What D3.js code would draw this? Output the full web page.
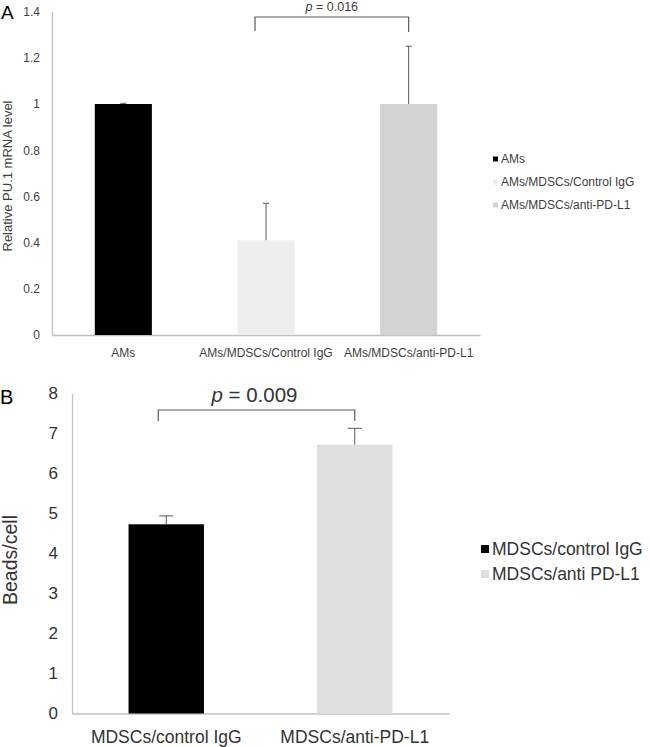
<!DOCTYPE html>
<html><head><meta charset="utf-8">
<script src="https://cdn.jsdelivr.net/npm/d3@7"></script>
<style>body{margin:0;background:#fff}svg{display:block;font-family:Arial,"Liberation Sans",sans-serif}</style>
</head><body>
<svg id="c" width="650" height="747"></svg>
<script>
// Panel A data
const catsA = ["AMs", "AMs/MDSCs/Control IgG", "AMs/MDSCs/anti-PD-L1"];
const valsA = [1.0, 0.41, 1.0];
const errA = [0.003, 0.16, 0.25];
const colorsA = ["#000000", "#eeeeee", "#d3d3d3"];
const ticksA = [0, 0.2, 0.4, 0.6, 0.8, 1, 1.2, 1.4];
const pA = "0.016";
// Panel B data
const catsB = ["MDSCs/control IgG", "MDSCs/anti-PD-L1"];
const legB = ["MDSCs/control IgG", "MDSCs/anti PD-L1"];
const valsB = [4.73, 6.72];
const errB = [0.21, 0.41];
const colorsB = ["#000000", "#dfdfdf"];
const ticksB = [0, 1, 2, 3, 4, 5, 6, 7, 8];
const pB = "0.009";

const svg = d3.select("#c");

function panel(o) {
  const g = svg.append("g");
  const x = d3.scaleBand().domain(o.cats).range([o.x0, o.x1]).paddingInner(0.6).paddingOuter(0.3);
  const y = d3.scaleLinear().domain([0, o.ymax]).range([o.y0, o.y1]);
  // axes
  const ya = d3.axisLeft(y).tickValues(o.ticks).tickSize(0).tickPadding(o.tickPad).tickFormat(d3.format("~g"));
  const yg = g.append("g").attr("transform", `translate(${o.x0},0)`).call(ya);
  yg.select(".domain").attr("stroke", "#c0c0c0").attr("stroke-width", 1.3);
  yg.selectAll("text").attr("font-size", o.fs).attr("fill", o.tc);
  const xa = d3.axisBottom(x).tickSize(0).tickPadding(o.xPad);
  const xg = g.append("g").attr("transform", `translate(0,${o.y0})`).call(xa);
  xg.select(".domain").attr("stroke", "#c0c0c0").attr("stroke-width", 1.3);
  xg.selectAll("text").attr("font-size", o.xfs).attr("fill", o.tc);
  // bars
  g.selectAll(".bar").data(o.vals).enter().append("rect")
    .attr("x", (d, i) => x(o.cats[i])).attr("width", x.bandwidth())
    .attr("y", d => y(d)).attr("height", d => o.y0 - y(d))
    .attr("fill", (d, i) => o.colors[i]);
  // error bars
  o.vals.forEach((v, i) => {
    const cx = x(o.cats[i]) + x.bandwidth() / 2;
    const top = y(v + o.err[i]);
    g.append("line").attr("x1", cx).attr("x2", cx).attr("y1", y(v)).attr("y2", top).attr("stroke", "#595959").attr("stroke-width", 1);
    g.append("line").attr("x1", cx - o.cap).attr("x2", cx + o.cap).attr("y1", top).attr("y2", top).attr("stroke", "#595959").attr("stroke-width", 1);
  });
  // bracket
  const bx1 = x(o.cats[o.b1]) + x.bandwidth() / 2 + o.bOff, bx2 = x(o.cats[o.b2]) + x.bandwidth() / 2;
  g.append("path").attr("d", `M${bx1},${o.bBot}V${o.bTop}H${bx2}V${o.bBot2}`).attr("fill", "none").attr("stroke", "#595959").attr("stroke-width", 1.2);
  const t = g.append("text").attr("x", (bx1 + bx2) / 2 + o.pdx).attr("y", o.bTop - o.pGap).attr("text-anchor", "middle").attr("font-size", o.pfs).attr("fill", o.tc);
  t.append("tspan").attr("font-style", "italic").text("p");
  t.append("tspan").text(" = " + o.p);
  // y label
  g.append("text").attr("transform", `translate(${o.ylx},${o.yly}) rotate(-90)`).attr("text-anchor", "middle")
    .attr("font-size", o.ylfs).attr("fill", o.tc).text(o.ylabel);
  // panel letter
  g.append("text").attr("x", o.lx).attr("y", o.ly).attr("font-size", o.lfs).attr("fill", "#000").text(o.letter);
  // legend
  o.leg.forEach((name, i) => {
    const ly = o.legY + i * o.legDy;
    g.append("rect").attr("x", o.legX).attr("y", ly - o.sq / 2).attr("width", o.sq).attr("height", o.sq).attr("fill", o.colors[i]);
    g.append("text").attr("x", o.legX + o.sq + 3).attr("y", ly).attr("dy", "0.35em").attr("font-size", o.legfs).attr("fill", o.tc).text(name);
  });
}

panel({cats: catsA, vals: valsA, err: errA, colors: colorsA, ticks: ticksA, ymax: 1.4,
  x0: 52, x1: 480, y0: 335, y1: 11.6, fs: 12, xfs: 12, tc: "#404040", tickPad: 12, xPad: 13, cap: 3,
  b1: 1, b2: 2, bOff: -11, bTop: 17, bBot: 31, bBot2: 32, p: pA, pfs: 12.5, pGap: 6, pdx: 0,
  ylabel: "Relative PU.1 mRNA level", ylx: 12, yly: 176, ylfs: 13, letter: "A", lx: 1, ly: 19, lfs: 19,
  leg: catsA, legX: 493, legY: 159, legDy: 23, sq: 5, legfs: 12});

panel({cats: catsB, vals: valsB, err: errB, colors: colorsB, ticks: ticksB, ymax: 8,
  x0: 72, x1: 449, y0: 713.5, y1: 393.5, fs: 17, xfs: 17.5, tc: "#333333", tickPad: 14, xPad: 17, cap: 7,
  b1: 0, b2: 1, bOff: -8, bTop: 410, bBot: 421, bBot2: 421, p: pB, pfs: 20.5, pGap: 8, pdx: -2,
  ylabel: "Beads/cell", ylx: 17, yly: 560, ylfs: 19.5, letter: "B", lx: 0, ly: 404, lfs: 20,
  leg: legB, legX: 481, legY: 549, legDy: 25, sq: 8, legfs: 17.5});
</script>
</body></html>
